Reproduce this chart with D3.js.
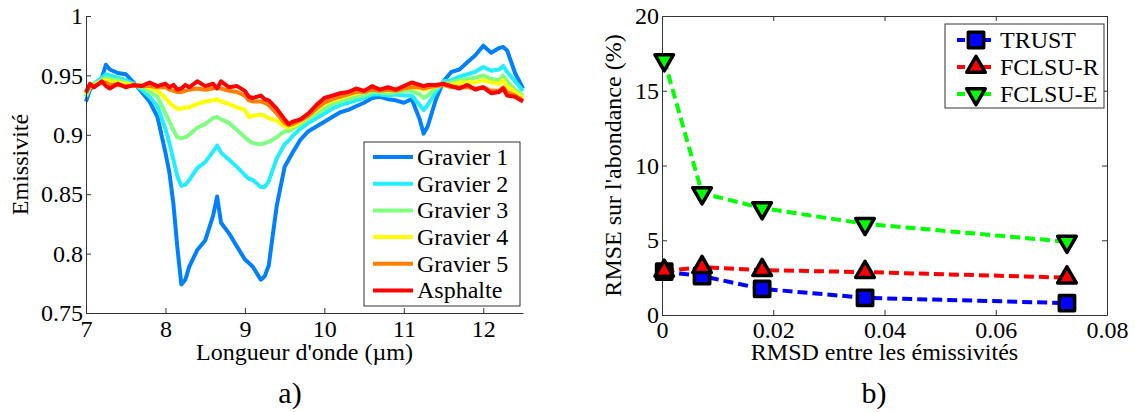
<!DOCTYPE html>
<html>
<head>
<meta charset="utf-8">
<script src="https://cdn.jsdelivr.net/npm/d3@7"></script>
<style>
  body { margin: 0; background: #fff; }
  svg, svg text { font-family: "Liberation Serif", "Times New Roman", serif; }
  .axis text { font-size: 24px; fill: #000; }
  .axis path, .axis line { stroke: #333; }
</style>
</head>
<body>
<div id="chart"></div>
<script>
// ---- panel a) emissivity spectra ----
var wavelength = [7.0, 7.05, 7.1, 7.2, 7.25, 7.3, 7.4, 7.5, 7.6, 7.7,
  7.8, 7.9, 8.0, 8.05, 8.1, 8.15, 8.2, 8.25, 8.3, 8.4,
  8.5, 8.6, 8.65, 8.7, 8.8, 8.9, 9.0, 9.05, 9.1, 9.2,
  9.25, 9.3, 9.4, 9.5, 9.55, 9.6, 9.7, 9.8, 9.9, 10.0,
  10.1, 10.2, 10.3, 10.4, 10.5, 10.6, 10.7, 10.8, 10.9, 11.0,
  11.1, 11.2, 11.25, 11.3, 11.4, 11.5, 11.6, 11.7, 11.8, 11.9,
  12.0, 12.1, 12.2, 12.25, 12.3, 12.4, 12.5];

var gravier1 = [.928, .938, .942, .948, .959, .955, .952, .951, .944, .936,
  .928, .915, .885, .868, .842, .805, .774, .778, .789, .803,
  .811, .832, .848, .826, .817, .806, .795, .792, .789, .778,
  .781, .790, .840, .873, .879, .885, .896, .903, .907, .911,
  .915, .919, .921, .924, .927, .931, .932, .930, .929, .927,
  .930, .913, .901, .907, .929, .945, .953, .955, .961, .967,
  .975, .969, .973, .974, .971, .952, .939];

var gravier2 = [.932, .940, .943, .948, .951, .950, .948, .946, .943, .938,
  .932, .924, .905, .893, .879, .865, .857, .858, .862, .872,
  .877, .886, .891, .885, .879, .873, .866, .863, .862, .856,
  .856, .861, .880, .892, .895, .899, .905, .910, .914, .918,
  .922, .925, .927, .929, .931, .934, .934, .933, .934, .933,
  .933, .925, .921, .925, .936, .945, .946, .949, .951, .953,
  .957, .954, .955, .958, .953, .945, .937];

var gravier3 = [.933, .940, .942, .946, .948, .947, .946, .944, .942, .940,
  .936, .932, .918, .911, .904, .898, .897, .898, .900, .906,
  .909, .914, .915, .913, .910, .904, .898, .895, .893, .892,
  .893, .894, .898, .903, .903, .905, .909, .914, .918, .922,
  .926, .928, .930, .932, .933, .936, .936, .935, .936, .937,
  .937, .934, .931, .933, .939, .943, .944, .946, .947, .948,
  .950, .947, .946, .950, .945, .938, .933];

var gravier4 = [.934, .941, .942, .945, .946, .945, .944, .943, .942, .942,
  .940, .937, .931, .927, .924, .922, .922, .923, .923, .926,
  .928, .929, .930, .928, .926, .923, .921, .915, .916, .917,
  .916, .914, .912, .907, .906, .907, .911, .916, .921, .926,
  .929, .931, .933, .935, .936, .938, .938, .937, .938, .939,
  .940, .939, .938, .939, .941, .943, .942, .944, .944, .944,
  .946, .944, .943, .946, .941, .936, .931];

var gravier5 = [.935, .941, .941, .944, .944, .942, .942, .941, .941, .941,
  .941, .940, .940, .938, .937, .936, .936, .937, .938, .939,
  .938, .939, .940, .939, .937, .936, .933, .929, .928, .928,
  .927, .925, .918, .910, .908, .909, .912, .916, .922, .927,
  .930, .932, .934, .936, .936, .938, .937, .938, .937, .939,
  .940, .940, .939, .940, .941, .942, .940, .940, .940, .939,
  .940, .937, .937, .940, .936, .933, .929];

var asphalte = [.936, .943, .940, .945, .941, .939, .943, .940, .942, .941,
  .944, .941, .943, .940, .942, .938, .939, .942, .940, .945,
  .941, .943, .939, .945, .940, .941, .937, .932, .931, .933,
  .930, .929, .922, .913, .909, .911, .913, .918, .925, .931,
  .933, .935, .936, .939, .937, .941, .938, .940, .938, .941,
  .944, .942, .941, .942, .942, .943, .941, .939, .942, .938,
  .940, .935, .936, .939, .933, .932, .928];

var spectraNames = ["Gravier 1", "Gravier 2", "Gravier 3", "Gravier 4", "Gravier 5", "Asphalte"];
var spectraColors = ["#0080ff", "#22eeff", "#80ff80", "#ffff00", "#ff8000", "#ff0000"];
var spectra = [gravier1, gravier2, gravier3, gravier4, gravier5, asphalte];
var xTicksA = [7, 8, 9, 10, 11, 12];
var yTicksA = [0.75, 0.8, 0.85, 0.9, 0.95, 1];

// ---- panel b) abundance error ----
var rmsd = [0.0004, 0.0072, 0.018, 0.0365, 0.0728];
var trust = [2.9, 2.6, 1.75, 1.15, 0.8];
var fclsuR = [2.95, 3.2, 3.0, 2.87, 2.5];
var fclsuE = [17.05, 8.15, 7.15, 6.1, 4.9];
var methodNames = ["TRUST", "FCLSU-R", "FCLSU-E"];
var methodColors = ["#0000ff", "#ff0000", "#00ff00"];
var methods = [trust, fclsuR, fclsuE];
var xTicksB = [0, 0.02, 0.04, 0.06, 0.08];
var yTicksB = [0, 5, 10, 15, 20];

var width = 1135, height = 412;
var serif = "'Liberation Serif', 'Times New Roman', serif";

var svg = d3.select("#chart").append("svg")
  .attr("width", width)
  .attr("height", height)
  .attr("font-family", serif);

var fmt = function(d){ return String(+d.toFixed(2)); };

// ================= panel a =================
var A = {left: 86, right: 523, top: 16, bottom: 313};

var xA = d3.scaleLinear().domain([7, 12.5]).range([A.left, A.right]);
var yA = d3.scaleLinear().domain([0.75, 1]).range([A.bottom, A.top]);

var line = d3.line()
  .x(function(d){ return xA(d[0]); })
  .y(function(d){ return yA(d[1]); });

spectra.forEach(function(s, i){
  svg.append("path")
    .datum(wavelength.map(function(w, j){ return [w, s[j]]; }))
    .attr("d", line)
    .style("fill", "none")
    .style("stroke", spectraColors[i])
    .style("stroke-width", 4)
    .style("stroke-linejoin", "round");
});

svg.append("g")
  .attr("class", "axis")
  .attr("transform", "translate(0," + A.bottom + ")")
  .call(d3.axisBottom(xA).tickValues(xTicksA).tickSizeInner(-5).tickSizeOuter(0).tickPadding(7).tickFormat(fmt));

svg.append("g")
  .attr("class", "axis")
  .attr("transform", "translate(" + A.left + ",0)")
  .call(d3.axisLeft(yA).tickValues(yTicksA).tickSizeInner(-5).tickSizeOuter(0).tickPadding(3).tickFormat(fmt));

// legend a
var legA = svg.append("g").attr("transform", "translate(364,142)");
legA.append("rect")
  .attr("width", 156).attr("height", 164)
  .style("fill", "#fff").style("stroke", "#333");

spectraNames.forEach(function(name, i){
  var yy = 15 + i * 26.7;
  legA.append("line")
    .attr("x1", 9).attr("x2", 49).attr("y1", yy).attr("y2", yy)
    .style("stroke", spectraColors[i]).style("stroke-width", 4);
  legA.append("text")
    .attr("x", 53).attr("y", yy).attr("dy", "0.33em")
    .attr("font-family", serif)
    .style("font-size", "24px")
    .text(name);
});

svg.append("text")
  .attr("transform", "translate(28," + (A.top + A.bottom) / 2 + ") rotate(-90)")
  .attr("text-anchor", "middle")
  .attr("font-family", serif)
  .style("font-size", "24px")
  .text("Emissivité");

svg.append("text")
  .attr("x", (A.left + A.right) / 2).attr("y", 360)
  .attr("text-anchor", "middle")
  .attr("font-family", serif)
  .style("font-size", "24px")
  .text("Longueur d'onde (µm)");

svg.append("text")
  .attr("x", 290).attr("y", 403)
  .attr("text-anchor", "middle")
  .attr("font-family", serif)
  .style("font-size", "30px")
  .text("a)");

// ================= panel b =================
var B = {left: 662, right: 1107, top: 16, bottom: 315};

var xB = d3.scaleLinear().domain([0, 0.08]).range([B.left, B.right]);
var yB = d3.scaleLinear().domain([0, 20]).range([B.bottom, B.top]);

svg.append("g")
  .attr("class", "axis")
  .attr("transform", "translate(0," + B.bottom + ")")
  .call(d3.axisBottom(xB).tickValues(xTicksB).tickSizeInner(-5).tickSizeOuter(0).tickPadding(6).tickFormat(fmt));
svg.append("g")
  .attr("class", "axis")
  .attr("transform", "translate(0," + B.top + ")")
  .call(d3.axisTop(xB).tickValues(xTicksB).tickSizeInner(-5).tickSizeOuter(0).tickFormat(""));
svg.append("g")
  .attr("class", "axis")
  .attr("transform", "translate(" + B.left + ",0)")
  .call(d3.axisLeft(yB).tickValues(yTicksB).tickSizeInner(-5).tickSizeOuter(0).tickPadding(3).tickFormat(fmt));
svg.append("g")
  .attr("class", "axis")
  .attr("transform", "translate(" + B.right + ",0)")
  .call(d3.axisRight(yB).tickValues(yTicksB).tickSizeInner(-5).tickSizeOuter(0).tickFormat(""));

// drop d3's default sans-serif on axis groups
svg.selectAll(".axis").attr("font-family", serif).attr("font-size", null);

var symbols = [
  d3.symbol().type(d3.symbolSquare).size(235),
  d3.symbol().type(d3.symbolTriangle).size(150),
  d3.symbol().type(d3.symbolTriangle).size(150)
];
var rotations = [0, 0, 180];

var lineB = d3.line()
  .x(function(d){ return xB(d[0]); })
  .y(function(d){ return yB(d[1]); });

methods.forEach(function(m, i){
  var pts = rmsd.map(function(r, j){ return [r, m[j]]; });
  svg.append("path")
    .datum(pts)
    .attr("d", lineB)
    .style("fill", "none")
    .style("stroke", methodColors[i])
    .style("stroke-width", 4)
    .style("stroke-dasharray", "10,5");
});

methods.forEach(function(m, i){
  var pts = rmsd.map(function(r, j){ return [r, m[j]]; });
  svg.selectAll(".mk" + i)
    .data(pts)
    .enter()
    .append("path")
    .attr("class", "mk" + i)
    .attr("d", symbols[i])
    .attr("transform", function(d){
      return "translate(" + xB(d[0]) + "," + yB(d[1]) + ") rotate(" + rotations[i] + ")";
    })
    .style("fill", methodColors[i])
    .style("stroke", "#000")
    .style("stroke-width", 3.5)
    .style("stroke-linejoin", "round");
});

// legend b
var legB = svg.append("g").attr("transform", "translate(945,24)");
legB.append("rect")
  .attr("width", 159).attr("height", 84)
  .style("fill", "#fff").style("stroke", "#333");

methodNames.forEach(function(name, i){
  var yy = 16 + i * 27;
  legB.append("line")
    .attr("x1", 12).attr("x2", 50).attr("y1", yy).attr("y2", yy)
    .style("stroke", methodColors[i]).style("stroke-width", 4)
    .style("stroke-dasharray", "8,5");
  legB.append("path")
    .attr("d", symbols[i])
    .attr("transform", "translate(31," + yy + ") rotate(" + rotations[i] + ")")
    .style("fill", methodColors[i])
    .style("stroke", "#000")
    .style("stroke-width", 3.5)
    .style("stroke-linejoin", "round");
  legB.append("text")
    .attr("x", 55).attr("y", yy).attr("dy", "0.33em")
    .attr("font-family", serif)
    .style("font-size", "24px")
    .text(name);
});

svg.append("text")
  .attr("transform", "translate(621," + (B.top + B.bottom) / 2 + ") rotate(-90)")
  .attr("text-anchor", "middle")
  .attr("font-family", serif)
  .style("font-size", "24px")
  .text("RMSE sur l'abondance (%)");

svg.append("text")
  .attr("x", (B.left + B.right) / 2).attr("y", 360)
  .attr("text-anchor", "middle")
  .attr("font-family", serif)
  .style("font-size", "24px")
  .text("RMSD entre les émissivités");

svg.append("text")
  .attr("x", 874).attr("y", 403)
  .attr("text-anchor", "middle")
  .attr("font-family", serif)
  .style("font-size", "30px")
  .text("b)");
</script>
</body>
</html>
